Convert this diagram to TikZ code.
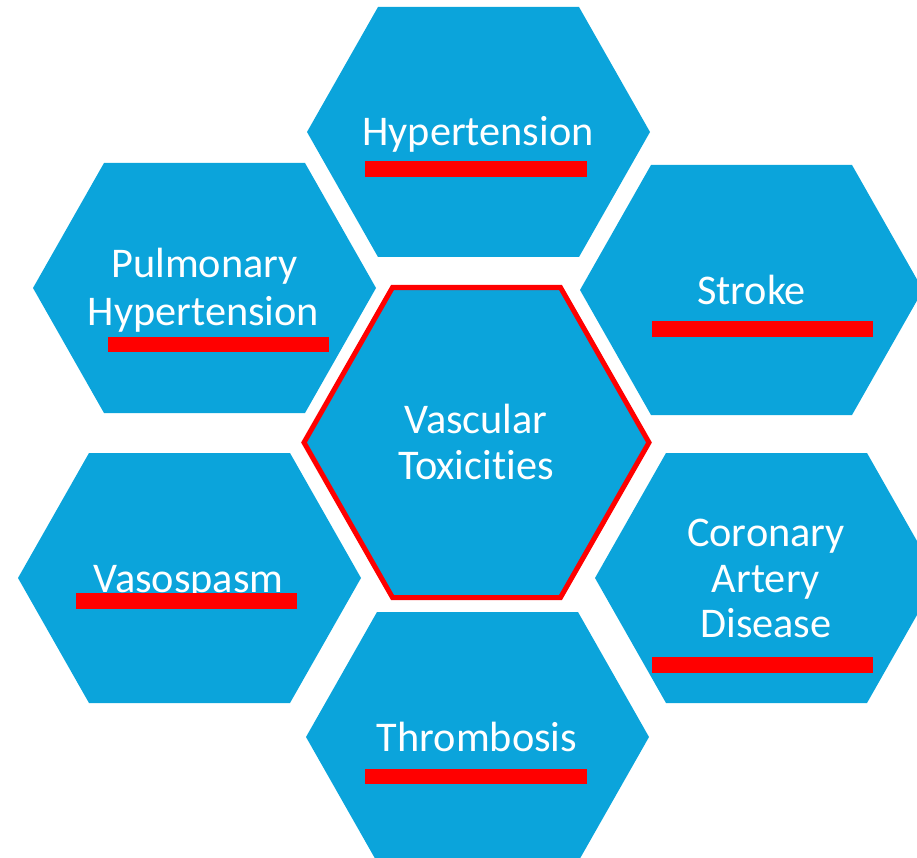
\documentclass[tikz,border=0pt]{standalone}
\usepackage{fontspec}
\setmainfont{Carlito}[Ligatures={NoCommon}]
\definecolor{hexblue}{RGB}{11,164,219}
\definecolor{barred}{RGB}{255,0,0}
\begin{document}
\begin{tikzpicture}[x=1pt,y=-1pt,
  outerhex/.pic={\fill[hexblue] (-171.5,0) -- (-100.5,-125) -- (100.5,-125) -- (171.5,0) -- (100.5,125) -- (-100.5,125) -- cycle;},
  lbl/.style={text=white,font=\fontsize{42.3}{46}\selectfont,anchor=base,inner sep=0pt},
  redbar/.style={fill=barred}]
\useasboundingbox (0,0) rectangle (917,858);
\clip (0,0) rectangle (917,858);
% outer hexagons
\pic at (478.5,132) {outerhex};
\pic at (204.5,288) {outerhex};
\pic at (751.5,290) {outerhex};
\pic at (189.5,578) {outerhex};
\pic at (766.5,578) {outerhex};
\pic at (477.5,737) {outerhex};
% centre hexagon
\draw[line width=5pt, draw=barred, fill=hexblue] (304,442.5) -- (392.5,287.5) -- (560.5,287.5) -- (649,442.5) -- (560.5,597.5) -- (392.5,597.5) -- cycle;
% labels
\node[lbl] (hyp) at (478,146) {Hypertension};
\node[lbl] (pulm1) at (204.5,278) {Pulmonary};
\node[lbl] (pulm2) at (203.5,325) {Hypertension};
\node[lbl] (stroke) at (751.5,304) {Stroke};
\node[lbl] (vaso) at (188.5,592) {Vasospasm};
\node[lbl] (cad1) at (766,546) {Coronary};
\node[lbl] (cad2) at (766,592) {Artery};
\node[lbl] (cad3) at (766,637) {Disease};
\node[lbl] (thromb) at (477,751) {Thrombosis};
\node[lbl] (vasc1) at (476,433) {Vascular};
\node[lbl] (vasc2) at (476,479) {Toxicities};
% red bars
\fill[redbar] (365,161) rectangle (587,177);
\fill[redbar] (108,337) rectangle (329,352);
\fill[redbar] (652,321) rectangle (873,337);
\fill[redbar] (76,593) rectangle (297,609);
\fill[redbar] (652,657) rectangle (873,673);
\fill[redbar] (365,769) rectangle (587,784);
\end{tikzpicture}
\end{document}
